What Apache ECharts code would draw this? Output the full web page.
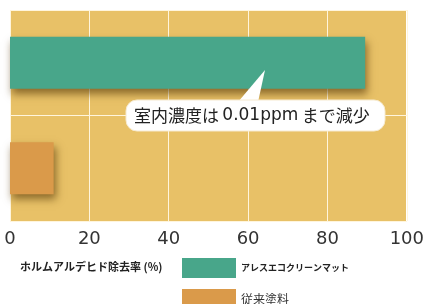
<!DOCTYPE html>
<html>
<head>
<meta charset="utf-8">
<script src="https://cdn.jsdelivr.net/npm/echarts@6/dist/echarts.min.js"></script>
<style>
  html, body { margin: 0; padding: 0; background: #fff; }
  #main { width: 427px; height: 304px; }
</style>
</head>
<body>
<div id="main"></div>
<script>
const categories = ['アレスエコクリーンマット', '従来塗料']
const newMatValues = [89.5, '-']
const oldPaintValues = ['-', 11]
const xTicks = [0, 20, 40, 60, 80, 100]

const jpFont = '"Noto Sans CJK JP", sans-serif'

let chart = echarts.init(document.getElementById('main'), null, { renderer: 'canvas' })

const barShadow = {
  shadowBlur: 8,
  shadowOffsetX: 2,
  shadowOffsetY: 5,
  shadowColor: 'rgba(90, 60, 10, 0.65)'
}

let option = {
  animation: false,
  title: {
    text: 'ホルムアルデヒド除去率 (%)',
    left: 15,
    top: 256,
    textStyle: { fontFamily: jpFont, fontSize: 11, fontWeight: 'bold', color: '#222' }
  },
  legend: {
    orient: 'vertical',
    left: 177,
    top: 253,
    height: 80,
    itemWidth: 54,
    itemHeight: 20,
    itemGap: 11,
    icon: 'rect',
    data: [
      { name: categories[0], textStyle: { fontFamily: jpFont, fontSize: 9, fontWeight: 'bold', color: '#222' } },
      { name: categories[1], textStyle: { fontFamily: jpFont, fontSize: 12, color: '#333' } }
    ]
  },
  graphic: [
    {
      type: 'rect', z: -1, silent: true,
      shape: { x: 10, y: 10, width: 396, height: 211 },
      style: { fill: '#E8C167' }
    },
    {
      type: 'polygon', z: 100, zlevel: 1,
      shape: { points: [[238, 102], [258, 102], [265, 70]] },
      style: { fill: '#fff' }
    },
    {
      type: 'rect', z: 100, zlevel: 1,
      shape: { x: 126, y: 100, width: 259, height: 31, r: 11 },
      style: { fill: '#fff', stroke: '#f6ead0', lineWidth: 1 }
    },
    {
      type: 'text', z: 101, zlevel: 1,
      x: 134, y: 116,
      style: {
        text: '{a|室内濃度は} {b|0.01ppm} {a|まで減少}',
        verticalAlign: 'middle',
        rich: {
          a: { fontFamily: jpFont, fontSize: 17, fill: '#222', color: '#222' },
          b: { fontFamily: '"DejaVu Sans", sans-serif', fontSize: 17, fill: '#222', color: '#222' }
        }
      }
    }
  ],
  grid: { left: 10, top: 10, width: 400, height: 211, containLabel: false },
  xAxis: {
    type: 'value',
    min: xTicks[0],
    max: xTicks[xTicks.length - 1],
    interval: 20,
    axisLine: { show: false },
    axisTick: { show: false },
    axisLabel: {
      margin: 9,
      fontFamily: '"DejaVu Sans", sans-serif',
      fontSize: 18,
      color: '#333',
      showMaxLabel: true
    },
    splitLine: { show: true, lineStyle: { color: '#fff5dc', width: 1 } }
  },
  yAxis: {
    type: 'category',
    data: categories,
    inverse: true,
    axisLine: { show: false },
    axisTick: { show: false },
    axisLabel: { show: false },
    splitLine: { show: true, lineStyle: { color: '#fff5dc', width: 1 } }
  },
  series: [
    {
      name: categories[0],
      type: 'bar',
      stack: 'all',
      barWidth: 52,
      data: newMatValues,
      itemStyle: Object.assign({ color: '#48A68A' }, barShadow)
    },
    {
      name: categories[1],
      type: 'bar',
      stack: 'all',
      barWidth: 52,
      data: oldPaintValues,
      itemStyle: Object.assign({ color: '#DA9A4A' }, barShadow)
    }
  ]
}

chart.setOption(option)
</script>
</body>
</html>
